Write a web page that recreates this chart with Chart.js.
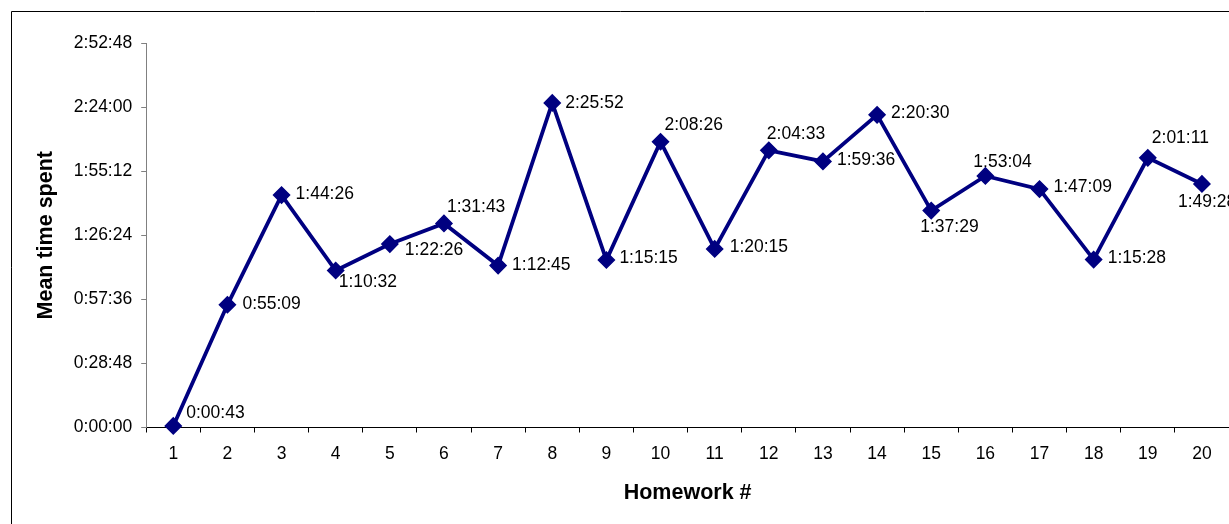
<!DOCTYPE html>
<html>
<head>
<meta charset="utf-8">
<title>Mean time spent per homework</title>
<script src="https://cdn.jsdelivr.net/npm/chart.js@4.4.0/dist/chart.umd.min.js"></script>
<style>
  html, body { margin: 0; padding: 0; background: #fff; }
  #wrap { width: 1229px; height: 524px; position: relative; }
</style>
</head>
<body>
<div id="wrap"><canvas id="chart" width="1229" height="524"></canvas></div>
<script>
// Homework numbers along the x axis
const homeworks = ['1','2','3','4','5','6','7','8','9','10','11','12','13','14','15','16','17','18','19','20'];

// Mean time spent on each homework (h:mm:ss)
const meanTimes = ['0:00:43','0:55:09','1:44:26','1:10:32','1:22:26','1:31:43','1:12:45','2:25:52','1:15:15','2:08:26',
                   '1:20:15','2:04:33','1:59:36','2:20:30','1:37:29','1:53:04','1:47:09','1:15:28','2:01:11','1:49:28'];

// Y axis ticks (h:mm:ss)
const yTicks = ['0:00:00','0:28:48','0:57:36','1:26:24','1:55:12','2:24:00','2:52:48'];

// Placement of each value label relative to its marker [dx, dy] in px
const labelOffsets = [
  [13,-13],[15,-1],[14,-1],[3,11.5],[15,6],[3,-16.5],[14,0],[13,0],[13,-2],[4,-17],
  [15,-2],[-2,-16],[14,-1],[14,-2],[-11,17],[-12,-13.5],[14,-2],[14,-1],[4,-20],[-24,18]
];

const toSeconds = s => s.split(':').reduce((acc, p) => acc * 60 + Number(p), 0);
const toHMS = sec => {
  sec = Math.round(sec);
  const h = Math.floor(sec / 3600);
  const m = Math.floor((sec % 3600) / 60);
  const s = sec % 60;
  return h + ':' + String(m).padStart(2, '0') + ':' + String(s).padStart(2, '0');
};

const values = meanTimes.map(toSeconds);
const tickSeconds = yTicks.map(toSeconds);
const yStep = tickSeconds[1] - tickSeconds[0];

const FONT = "'Liberation Sans', Arial, Helvetica, sans-serif";
const NAVY = '#000080';

// White page with the frame's top and left edges
const framePlugin = {
  id: 'frame',
  beforeDraw(chart) {
    const { ctx, width, height } = chart;
    ctx.save();
    ctx.fillStyle = '#fff';
    ctx.fillRect(0, 0, width, height);
    ctx.strokeStyle = '#000';
    ctx.lineWidth = 1;
    ctx.beginPath();
    ctx.moveTo(11.5, height);
    ctx.lineTo(11.5, 11.5);
    ctx.lineTo(width, 11.5);
    ctx.stroke();
    ctx.restore();
  }
};

// Value labels next to each marker
const valueLabels = {
  id: 'valueLabels',
  afterDatasetsDraw(chart) {
    const { ctx } = chart;
    const meta = chart.getDatasetMeta(0);
    ctx.save();
    ctx.font = '17.5px ' + FONT;
    ctx.fillStyle = '#000';
    ctx.textAlign = 'left';
    ctx.textBaseline = 'middle';
    meta.data.forEach((pt, i) => {
      const [dx, dy] = labelOffsets[i];
      ctx.fillText(meanTimes[i], pt.x + dx, pt.y + dy);
    });
    ctx.restore();
  }
};

new Chart(document.getElementById('chart'), {
  type: 'line',
  data: {
    labels: homeworks,
    datasets: [{
      label: 'Mean time spent',
      data: values,
      borderColor: NAVY,
      backgroundColor: NAVY,
      borderWidth: 3.8,
      pointStyle: 'rectRot',
      pointRadius: 8,
      pointHoverRadius: 8,
      pointBorderWidth: 1.5,
      pointBorderColor: NAVY,
      pointBackgroundColor: NAVY,
      tension: 0,
      clip: false
    }]
  },
  options: {
    responsive: false,
    animation: false,
    events: [],
    layout: { autoPadding: false, padding: { top: 43, right: 0, bottom: 0, left: 0 } },
    plugins: {
      legend: { display: false },
      tooltip: { enabled: false }
    },
    scales: {
      x: {
        type: 'category',
        offset: true,
        afterFit: s => { s.height = 96.5; s.paddingLeft = 0; s.paddingRight = 0; },
        grid: {
          display: true,
          offset: true,
          drawOnChartArea: false,
          drawTicks: true,
          tickLength: 5,
          color: '#000',
          lineWidth: 1
        },
        border: { display: true, color: '#000', width: 1 },
        ticks: {
          color: '#000',
          font: { family: FONT, size: 17.5 },
          padding: 11,
          maxRotation: 0,
          autoSkip: false
        },
        title: {
          display: true,
          text: 'Homework #',
          color: '#000',
          font: { family: FONT, size: 21.5, weight: 'bold' },
          padding: { top: 0, bottom: 18 }
        }
      },
      y: {
        type: 'linear',
        min: tickSeconds[0],
        max: tickSeconds[tickSeconds.length - 1],
        afterFit: s => { s.width = 146.2; s.paddingTop = 0; s.paddingBottom = 0; },
        afterBuildTicks: s => { s.ticks = tickSeconds.map(v => ({ value: v })); },
        grid: {
          display: true,
          drawOnChartArea: false,
          drawTicks: true,
          tickLength: 5,
          color: '#808080',
          lineWidth: 1
        },
        border: { display: true, color: '#808080', width: 1 },
        ticks: {
          stepSize: yStep,
          color: '#000',
          font: { family: FONT, size: 17.5 },
          padding: 9,
          callback: v => toHMS(v)
        },
        title: {
          display: true,
          text: 'Mean time spent',
          color: '#000',
          font: { family: FONT, size: 21.5, weight: 'bold' },
          padding: { top: 33, bottom: 0 }
        }
      }
    }
  },
  plugins: [framePlugin, valueLabels]
});
</script>
</body>
</html>
